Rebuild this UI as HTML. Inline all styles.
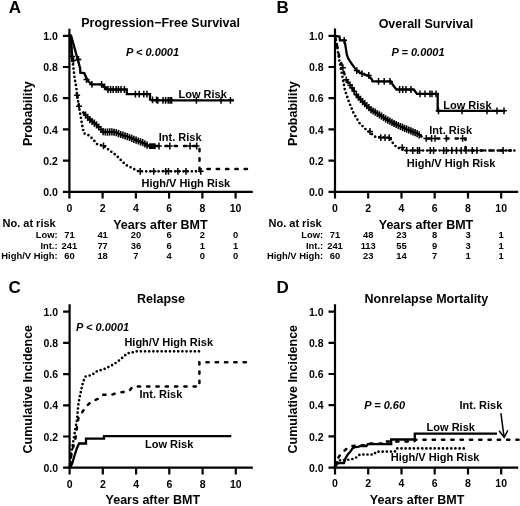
<!DOCTYPE html>
<html><head><meta charset="utf-8"><style>
html,body{margin:0;padding:0;background:#fff;overflow:hidden;}
svg{display:block;filter:grayscale(1);}
text{font-family:"Liberation Sans",sans-serif;font-weight:bold;fill:#000;}
.ax{stroke:#000;stroke-width:2.2;fill:none;}
.so{stroke:#000;stroke-width:2.3;fill:none;stroke-linejoin:miter;}
.da{stroke:#000;stroke-width:2.5;fill:none;stroke-dasharray:2.3 7;stroke-linecap:round;}
.dt{stroke:#000;stroke-width:2.7;fill:none;stroke-dasharray:0 4.15;stroke-linecap:round;}
.cm{stroke:#000;stroke-width:1.5;fill:none;}
.ar{stroke:#000;stroke-width:1.5;fill:none;}
</style></head><body>
<svg width="520" height="506" viewBox="0 0 520 506">
<path class="ax" d="M69.4,28.7V192.8 M62.9,191.8H252.8"/>
<path class="ax" d="M62.9,160.6H69.4M62.9,129.4H69.4M62.9,98.2H69.4M62.9,67.0H69.4M62.9,35.8H69.4M69.4,191.8V198.6M102.6,191.8V198.6M135.9,191.8V198.6M169.1,191.8V198.6M202.4,191.8V198.6M235.6,191.8V198.6"/>
<text x="57.9" y="195.9" text-anchor="end" style="font-size:10.5px;">0.0</text>
<text x="57.9" y="164.7" text-anchor="end" style="font-size:10.5px;">0.2</text>
<text x="57.9" y="133.5" text-anchor="end" style="font-size:10.5px;">0.4</text>
<text x="57.9" y="102.3" text-anchor="end" style="font-size:10.5px;">0.6</text>
<text x="57.9" y="71.1" text-anchor="end" style="font-size:10.5px;">0.8</text>
<text x="57.9" y="39.9" text-anchor="end" style="font-size:10.5px;">1.0</text>
<text x="69.4" y="211.6" text-anchor="middle" style="font-size:10.5px;">0</text>
<text x="102.6" y="211.6" text-anchor="middle" style="font-size:10.5px;">2</text>
<text x="135.9" y="211.6" text-anchor="middle" style="font-size:10.5px;">4</text>
<text x="169.1" y="211.6" text-anchor="middle" style="font-size:10.5px;">6</text>
<text x="202.4" y="211.6" text-anchor="middle" style="font-size:10.5px;">8</text>
<text x="235.6" y="211.6" text-anchor="middle" style="font-size:10.5px;">10</text>
<path class="ax" d="M335.0,28.5V192.8 M328.5,191.8H518.2"/>
<path class="ax" d="M328.5,160.6H335.0M328.5,129.4H335.0M328.5,98.2H335.0M328.5,67.0H335.0M328.5,35.8H335.0M335.0,191.8V198.6M368.2,191.8V198.6M401.5,191.8V198.6M434.7,191.8V198.6M468.0,191.8V198.6M501.2,191.8V198.6"/>
<text x="323.5" y="195.9" text-anchor="end" style="font-size:10.5px;">0.0</text>
<text x="323.5" y="164.7" text-anchor="end" style="font-size:10.5px;">0.2</text>
<text x="323.5" y="133.5" text-anchor="end" style="font-size:10.5px;">0.4</text>
<text x="323.5" y="102.3" text-anchor="end" style="font-size:10.5px;">0.6</text>
<text x="323.5" y="71.1" text-anchor="end" style="font-size:10.5px;">0.8</text>
<text x="323.5" y="39.9" text-anchor="end" style="font-size:10.5px;">1.0</text>
<text x="335.0" y="211.6" text-anchor="middle" style="font-size:10.5px;">0</text>
<text x="368.2" y="211.6" text-anchor="middle" style="font-size:10.5px;">2</text>
<text x="401.5" y="211.6" text-anchor="middle" style="font-size:10.5px;">4</text>
<text x="434.7" y="211.6" text-anchor="middle" style="font-size:10.5px;">6</text>
<text x="468.0" y="211.6" text-anchor="middle" style="font-size:10.5px;">8</text>
<text x="501.2" y="211.6" text-anchor="middle" style="font-size:10.5px;">10</text>
<path class="ax" d="M69.6,304.2V468.7 M63.1,467.7H252.8"/>
<path class="ax" d="M63.1,436.5H69.6M63.1,405.3H69.6M63.1,374.1H69.6M63.1,342.9H69.6M63.1,311.7H69.6M69.6,467.7V474.5M102.8,467.7V474.5M136.1,467.7V474.5M169.3,467.7V474.5M202.6,467.7V474.5M235.8,467.7V474.5"/>
<text x="58.1" y="471.8" text-anchor="end" style="font-size:10.5px;">0.0</text>
<text x="58.1" y="440.6" text-anchor="end" style="font-size:10.5px;">0.2</text>
<text x="58.1" y="409.4" text-anchor="end" style="font-size:10.5px;">0.4</text>
<text x="58.1" y="378.2" text-anchor="end" style="font-size:10.5px;">0.6</text>
<text x="58.1" y="347.0" text-anchor="end" style="font-size:10.5px;">0.8</text>
<text x="58.1" y="315.8" text-anchor="end" style="font-size:10.5px;">1.0</text>
<text x="69.6" y="487.5" text-anchor="middle" style="font-size:10.5px;">0</text>
<text x="102.8" y="487.5" text-anchor="middle" style="font-size:10.5px;">2</text>
<text x="136.1" y="487.5" text-anchor="middle" style="font-size:10.5px;">4</text>
<text x="169.3" y="487.5" text-anchor="middle" style="font-size:10.5px;">6</text>
<text x="202.6" y="487.5" text-anchor="middle" style="font-size:10.5px;">8</text>
<text x="235.8" y="487.5" text-anchor="middle" style="font-size:10.5px;">10</text>
<path class="ax" d="M335.0,304.2V468.6 M328.5,467.6H518.2"/>
<path class="ax" d="M328.5,436.4H335.0M328.5,405.2H335.0M328.5,374.0H335.0M328.5,342.8H335.0M328.5,311.6H335.0M335.0,467.6V474.4M368.2,467.6V474.4M401.5,467.6V474.4M434.7,467.6V474.4M468.0,467.6V474.4M501.2,467.6V474.4"/>
<text x="323.5" y="471.7" text-anchor="end" style="font-size:10.5px;">0.0</text>
<text x="323.5" y="440.5" text-anchor="end" style="font-size:10.5px;">0.2</text>
<text x="323.5" y="409.3" text-anchor="end" style="font-size:10.5px;">0.4</text>
<text x="323.5" y="378.1" text-anchor="end" style="font-size:10.5px;">0.6</text>
<text x="323.5" y="346.9" text-anchor="end" style="font-size:10.5px;">0.8</text>
<text x="323.5" y="315.7" text-anchor="end" style="font-size:10.5px;">1.0</text>
<text x="335.0" y="487.4" text-anchor="middle" style="font-size:10.5px;">0</text>
<text x="368.2" y="487.4" text-anchor="middle" style="font-size:10.5px;">2</text>
<text x="401.5" y="487.4" text-anchor="middle" style="font-size:10.5px;">4</text>
<text x="434.7" y="487.4" text-anchor="middle" style="font-size:10.5px;">6</text>
<text x="468.0" y="487.4" text-anchor="middle" style="font-size:10.5px;">8</text>
<text x="501.2" y="487.4" text-anchor="middle" style="font-size:10.5px;">10</text>
<text x="8.8" y="13.1" text-anchor="start" style="font-size:17px;">A</text>
<text x="276.6" y="13.1" text-anchor="start" style="font-size:17px;">B</text>
<text x="8.6" y="293.2" text-anchor="start" style="font-size:17px;">C</text>
<text x="276.4" y="293" text-anchor="start" style="font-size:17px;">D</text>
<text x="160.6" y="26.8" text-anchor="middle" style="font-size:12.5px;">Progression−Free Survival</text>
<text x="425.9" y="27.6" text-anchor="middle" style="font-size:12.5px;">Overall Survival</text>
<text x="161" y="303.3" text-anchor="middle" style="font-size:12.5px;">Relapse</text>
<text x="426.4" y="303.3" text-anchor="middle" style="font-size:12.5px;">Nonrelapse Mortality</text>
<text x="126" y="55.7" text-anchor="start" style="font-size:11px;font-style:italic;">P &lt; 0.0001</text>
<text x="391.5" y="55.6" text-anchor="start" style="font-size:11px;font-style:italic;">P = 0.0001</text>
<text x="76.1" y="330.8" text-anchor="start" style="font-size:11px;font-style:italic;">P &lt; 0.0001</text>
<text x="364.2" y="408.7" text-anchor="start" style="font-size:11px;font-style:italic;">P = 0.60</text>
<text transform="translate(31.7,113.7) rotate(-90)" text-anchor="middle" style="font-size:12.5px">Probability</text>
<text transform="translate(297.2,113.7) rotate(-90)" text-anchor="middle" style="font-size:12.5px">Probability</text>
<text transform="translate(31.7,389.2) rotate(-90)" text-anchor="middle" style="font-size:12.5px">Cumulative Incidence</text>
<text transform="translate(297.2,389.2) rotate(-90)" text-anchor="middle" style="font-size:12.5px">Cumulative Incidence</text>
<text x="160.4" y="229.2" text-anchor="middle" style="font-size:12.5px;">Years after BMT</text>
<text x="426" y="229.2" text-anchor="middle" style="font-size:12.5px;">Years after BMT</text>
<text x="152.8" y="504.2" text-anchor="middle" style="font-size:12.5px;">Years after BMT</text>
<text x="417.1" y="504.2" text-anchor="middle" style="font-size:12.5px;">Years after BMT</text>
<text x="2.5" y="227.2" text-anchor="start" style="font-size:11px;">No. at risk</text>
<text x="57.6" y="237.8" text-anchor="end" style="font-size:9.4px;">Low:</text>
<text x="69.4" y="237.8" text-anchor="middle" style="font-size:9.4px;">71</text>
<text x="102.6" y="237.8" text-anchor="middle" style="font-size:9.4px;">41</text>
<text x="135.9" y="237.8" text-anchor="middle" style="font-size:9.4px;">20</text>
<text x="169.1" y="237.8" text-anchor="middle" style="font-size:9.4px;">6</text>
<text x="202.4" y="237.8" text-anchor="middle" style="font-size:9.4px;">2</text>
<text x="235.6" y="237.8" text-anchor="middle" style="font-size:9.4px;">0</text>
<text x="57.6" y="248.5" text-anchor="end" style="font-size:9.4px;">Int.:</text>
<text x="69.4" y="248.5" text-anchor="middle" style="font-size:9.4px;">241</text>
<text x="102.6" y="248.5" text-anchor="middle" style="font-size:9.4px;">77</text>
<text x="135.9" y="248.5" text-anchor="middle" style="font-size:9.4px;">36</text>
<text x="169.1" y="248.5" text-anchor="middle" style="font-size:9.4px;">6</text>
<text x="202.4" y="248.5" text-anchor="middle" style="font-size:9.4px;">1</text>
<text x="235.6" y="248.5" text-anchor="middle" style="font-size:9.4px;">1</text>
<text x="57.6" y="259.2" text-anchor="end" style="font-size:9.4px;">High/V High:</text>
<text x="69.4" y="259.2" text-anchor="middle" style="font-size:9.4px;">60</text>
<text x="102.6" y="259.2" text-anchor="middle" style="font-size:9.4px;">18</text>
<text x="135.9" y="259.2" text-anchor="middle" style="font-size:9.4px;">7</text>
<text x="169.1" y="259.2" text-anchor="middle" style="font-size:9.4px;">4</text>
<text x="202.4" y="259.2" text-anchor="middle" style="font-size:9.4px;">0</text>
<text x="235.6" y="259.2" text-anchor="middle" style="font-size:9.4px;">0</text>
<text x="268.5" y="227.2" text-anchor="start" style="font-size:11px;">No. at risk</text>
<text x="323.2" y="237.8" text-anchor="end" style="font-size:9.4px;">Low:</text>
<text x="335.0" y="237.8" text-anchor="middle" style="font-size:9.4px;">71</text>
<text x="368.2" y="237.8" text-anchor="middle" style="font-size:9.4px;">48</text>
<text x="401.5" y="237.8" text-anchor="middle" style="font-size:9.4px;">23</text>
<text x="434.7" y="237.8" text-anchor="middle" style="font-size:9.4px;">8</text>
<text x="468.0" y="237.8" text-anchor="middle" style="font-size:9.4px;">3</text>
<text x="501.2" y="237.8" text-anchor="middle" style="font-size:9.4px;">1</text>
<text x="323.2" y="248.5" text-anchor="end" style="font-size:9.4px;">Int.:</text>
<text x="335.0" y="248.5" text-anchor="middle" style="font-size:9.4px;">241</text>
<text x="368.2" y="248.5" text-anchor="middle" style="font-size:9.4px;">113</text>
<text x="401.5" y="248.5" text-anchor="middle" style="font-size:9.4px;">55</text>
<text x="434.7" y="248.5" text-anchor="middle" style="font-size:9.4px;">9</text>
<text x="468.0" y="248.5" text-anchor="middle" style="font-size:9.4px;">3</text>
<text x="501.2" y="248.5" text-anchor="middle" style="font-size:9.4px;">1</text>
<text x="323.2" y="259.2" text-anchor="end" style="font-size:9.4px;">High/V High:</text>
<text x="335.0" y="259.2" text-anchor="middle" style="font-size:9.4px;">60</text>
<text x="368.2" y="259.2" text-anchor="middle" style="font-size:9.4px;">23</text>
<text x="401.5" y="259.2" text-anchor="middle" style="font-size:9.4px;">14</text>
<text x="434.7" y="259.2" text-anchor="middle" style="font-size:9.4px;">7</text>
<text x="468.0" y="259.2" text-anchor="middle" style="font-size:9.4px;">1</text>
<text x="501.2" y="259.2" text-anchor="middle" style="font-size:9.4px;">1</text>
<text x="178.5" y="97.6" text-anchor="start" style="font-size:11px;">Low Risk</text>
<text x="158.8" y="140.9" text-anchor="start" style="font-size:11px;">Int. Risk</text>
<text x="141.5" y="186.5" text-anchor="start" style="font-size:11px;">High/V High Risk</text>
<text x="443.3" y="108.7" text-anchor="start" style="font-size:11px;">Low Risk</text>
<text x="429.3" y="133.5" text-anchor="start" style="font-size:11px;">Int. Risk</text>
<text x="406.8" y="166.9" text-anchor="start" style="font-size:11px;">High/V High Risk</text>
<text x="124.4" y="345.5" text-anchor="start" style="font-size:11px;">High/V High Risk</text>
<text x="139.5" y="398" text-anchor="start" style="font-size:11px;">Int. Risk</text>
<text x="145" y="448" text-anchor="start" style="font-size:11px;">Low Risk</text>
<text x="426.6" y="430.8" text-anchor="start" style="font-size:11px;">Low Risk</text>
<text x="459.5" y="408.7" text-anchor="start" style="font-size:11px;">Int. Risk</text>
<text x="390.8" y="461.3" text-anchor="start" style="font-size:11px;">High/V High Risk</text>
<path class="so" d="M69.5,35.6 L71.1,35.6 L80.2,68.5 L80.3,72.6 L84.3,73 L86,77.2 L87.4,80.4 L89.2,82.1 L91.9,84.4 L101.6,84.4 L103.5,86 L105.1,87.6 L107.2,89.5 L126.8,89.5 L126.8,94.2 L150,94.2 L150,99.5 L152,100.3 L234,100.3"/>
<path class="da" d="M77.1,95.3 L78,100 L79,106.3 L82,111 L86.1,115.8 L90.9,120.6 L97.2,125.3 L102.7,131.6 L106.7,132.2 L111.4,131.8 L116.2,132.6 L120.9,134.6 L127.2,136.6 L132.1,138.6 L138.3,141 L143,142.8 L145.6,144.2 L148.5,146 L199.5,146 L199.5,169 L252.6,169"/>
<path class="dt" d="M69.5,35.6 L71,45 L72,58 L73.1,65.2 L74.7,78.7 L76.3,87.4 L77.1,95.3 L78.7,105 L80.6,115.8 L82.2,125.3 L83.8,133.2 L89.3,135.6 L93.2,139.5 L97.2,144.3 L103.5,145.8 L109.8,150.6 L116.2,155.3 L120.9,160.1 L125.7,164.8 L132,168 L138.3,171.3 L201,171.3"/>
<path class="so" d="M70.6,37 L71.6,50 L72.4,62" style="stroke-width:2.6"/>
<path class="cm" d="M72.3,53.1V59.9M69.5,56.5H75.1"/>
<path class="cm" d="M73.5,57.1V63.9M70.7,60.5H76.3"/>
<path class="cm" d="M77.1,91.9V98.7M74.1,95.3H80.1 M103.5,142.4V149.2M100.5,145.8H106.5"/>
<path class="cm" d="M140.2,167.9V174.7M137.4,171.3H143.0 M153.7,167.9V174.7M150.9,171.3H156.5 M165.8,167.9V174.7M163.0,171.3H168.6 M168.5,167.9V174.7M165.7,171.3H171.3 M177.9,167.9V174.7M175.1,171.3H180.7 M186,167.9V174.7M183.2,171.3H188.8 M200.8,167.9V174.7M198.0,171.3H203.6"/>
<path class="cm" d="M79,102.9V109.7M76.0,106.3H82.0"/>
<path class="cm" style="stroke-width:1.6" d="M85.5,111.5V118.7M82.9,115.1H88.1M87.7,113.8V121.0M85.1,117.4H90.3M89.9,116.0V123.2M87.3,119.6H92.5M92.1,117.9V125.1M89.5,121.5H94.7M94.3,119.5V126.7M91.7,123.1H96.9M96.5,121.2V128.4M93.9,124.8H99.1M98.7,123.4V130.6M96.1,127.0H101.3M100.9,125.9V133.1M98.3,129.5H103.5M103.1,128.1V135.3M100.5,131.7H105.7M105.3,128.4V135.6M102.7,132.0H107.9M107.5,128.5V135.7M104.9,132.1H110.1M109.7,128.3V135.5M107.1,131.9H112.3M111.9,128.3V135.5M109.3,131.9H114.5M114.1,128.7V135.8M111.5,132.2H116.7M116.3,129.0V136.2M113.7,132.6H118.9M118.5,130.0V137.2M115.9,133.6H121.1M120.7,130.9V138.1M118.1,134.5H123.3M122.9,131.6V138.8M120.3,135.2H125.5M125.1,132.3V139.5M122.5,135.9H127.7M127.3,133.0V140.2M124.7,136.6H129.9M129.5,133.9V141.1M126.9,137.5H132.1M131.7,134.8V142.0M129.1,138.4H134.3M133.9,135.7V142.9M131.3,139.3H136.5M136.1,136.5V143.7M133.5,140.1H138.7M138.3,137.4V144.6M135.7,141.0H140.9M140.5,138.2V145.4M137.9,141.8H143.1M142.7,139.1V146.3M140.1,142.7H145.3M144.9,140.2V147.4M142.3,143.8H147.5M147.1,141.5V148.7M144.5,145.1H149.7"/>
<rect x="149" y="143.3" width="6.7" height="5.7"/>
<path class="cm" d="M159,142.6V149.4M156.2,146H161.8 M169.8,142.6V149.4M167.0,146H172.6 M190,142.6V149.4M187.2,146H192.8 M196.7,142.6V149.4M193.9,146H199.5"/>
<path class="cm" d="M78.5,56.1V62.9M75.7,59.5H81.3"/>
<path class="cm" d="M75.6,59.5H80.8"/>
<path class="cm" d="M86.5,76.2V83.0M83.5,79.6H89.5"/>
<path class="cm" d="M91.9,81.0V87.8M89.1,84.4H94.7 M101.6,81.0V87.8M98.8,84.4H104.4"/>
<path class="cm" d="M104.6,83.5V90.3M101.6,86.9H107.6"/>
<path class="cm" d="M108,86.1V92.9M105.2,89.5H110.8 M110.6,86.1V92.9M107.8,89.5H113.4 M113.2,86.1V92.9M110.4,89.5H116.0 M116.2,86.1V92.9M113.4,89.5H119.0 M118.4,86.1V92.9M115.6,89.5H121.2 M121,86.1V92.9M118.2,89.5H123.8 M124.4,86.1V92.9M121.6,89.5H127.2"/>
<path class="cm" d="M135.4,90.8V97.6M132.6,94.2H138.2 M139.2,90.8V97.6M136.4,94.2H142.0 M143.8,90.8V97.6M141.0,94.2H146.6 M146.9,90.8V97.6M144.1,94.2H149.7"/>
<path class="cm" d="M152.5,96.4V103.2M149.7,99.8H155.3 M156.5,96.4V103.2M153.7,99.8H159.3"/>
<path class="cm" d="M157.8,96.9V103.7M155.0,100.3H160.6 M163,96.9V103.7M160.2,100.3H165.8 M165.6,96.9V103.7M162.8,100.3H168.4 M168.2,96.9V103.7M165.4,100.3H171.0 M170,96.9V103.7M167.2,100.3H172.8 M171.6,96.9V103.7M168.8,100.3H174.4 M196.4,96.9V103.7M193.6,100.3H199.2 M221,96.9V103.7M218.2,100.3H223.8 M230.4,96.9V103.7M227.6,100.3H233.2"/>
<path class="so" d="M335,36 L339.5,36.5 L340,40.3 L344.5,40.3 L345.7,47.3 L346.8,54.4 L348,58 L349.8,61 L352.2,64.5 L354.5,67.6 L356.9,70.6 L359,72 L363.2,74.2 L367.9,75.6 L371.9,79.4 L372.5,81.4 L390.9,81.4 L393,85 L396.4,89.5 L413.8,89.5 L416.9,93.8 L437.7,93.8 L437.7,110.8 L504.7,110.8"/>
<path class="da" d="M335,36 L336.5,43 L338,50 L339.5,58 L342.9,67.8 L344.5,74.5 L346.3,79.8 L349.4,84.5 L352,87.5 L357,95.8 L363,102 L370.8,109.6 L378.5,114.2 L386.2,119.2 L393.8,123.4 L401.5,127 L409.2,130.2 L416.9,133.4 L420.5,135.5 L423.1,138.4 L465.5,138.4 L465.5,150.5 L516,150.5"/>
<path class="dt" d="M335,36 L337.1,45.8 L339.5,61.6 L342.6,77.4 L344.8,89.6 L348.8,101.5 L353.7,113.4 L359.6,123.2 L366.6,130.2 L369.5,132.1 L375.4,136.9 L390,137.7 L392.3,142.3 L396.9,147.7 L401.5,148.5 L404.6,150.5 L516,150.5"/>
<path class="cm" style="stroke-width:1.6" d="M350.0,81.6V88.8M347.4,85.2H352.6M352.1,84.1V91.3M349.5,87.7H354.7M354.2,87.6V94.8M351.6,91.2H356.8M356.3,91.0V98.2M353.7,94.6H358.9M358.4,93.6V100.8M355.8,97.2H361.0M360.5,95.8V103.0M357.9,99.4H363.1M362.6,98.0V105.2M360.0,101.6H365.2M364.7,100.1V107.3M362.1,103.7H367.3M366.8,102.1V109.3M364.2,105.7H369.4M368.9,104.1V111.3M366.3,107.7H371.5M371.0,106.1V113.3M368.4,109.7H373.6M373.1,107.4V114.6M370.5,111.0H375.7M375.2,108.6V115.8M372.6,112.2H377.8M377.3,109.9V117.1M374.7,113.5H379.9M379.4,111.2V118.4M376.8,114.8H382.0M381.5,112.5V119.7M378.9,116.1H384.1M383.6,113.9V121.1M381.0,117.5H386.2M385.7,115.3V122.5M383.1,118.9H388.3M387.8,116.5V123.7M385.2,120.1H390.4M389.9,117.6V124.8M387.3,121.2H392.5M392.0,118.8V126.0M389.4,122.4H394.6M394.1,119.9V127.1M391.5,123.5H396.7M396.2,120.9V128.1M393.6,124.5H398.8M398.3,121.9V129.1M395.7,125.5H400.9M400.4,122.9V130.1M397.8,126.5H403.0M402.5,123.8V131.0M399.9,127.4H405.1M404.6,124.7V131.9M402.0,128.3H407.2M406.7,125.6V132.8M404.1,129.2H409.3M408.8,126.4V133.6M406.2,130.0H411.4M410.9,127.3V134.5M408.3,130.9H413.5M413.0,128.2V135.4M410.4,131.8H415.6M415.1,129.1V136.3M412.5,132.7H417.7M417.2,130.0V137.2M414.6,133.6H419.8M419.3,131.2V138.4M416.7,134.8H421.9"/>
<path class="cm" d="M426.2,135.0V141.8M423.4,138.4H429.0 M431.6,135.0V141.8M428.8,138.4H434.4 M435,135.0V141.8M432.2,138.4H437.8 M446.4,135.0V141.8M443.6,138.4H449.2 M462.6,135.0V141.8M459.8,138.4H465.4"/>
<path class="cm" d="M443.7,147.1V153.9M440.9,150.5H446.5 M446.4,147.1V153.9M443.6,150.5H449.2 M451.8,147.1V153.9M449.0,150.5H454.6 M456.5,147.1V153.9M453.7,150.5H459.3 M461.2,147.1V153.9M458.4,150.5H464.0 M466,147.1V153.9M463.2,150.5H468.8 M472.3,147.1V153.9M469.5,150.5H475.1 M476.9,147.1V153.9M474.1,150.5H479.7 M503.1,147.1V153.9M500.3,150.5H505.9"/>
<path class="cm" d="M370,128.1V134.9M367.0,131.5H373.0 M402.3,144.2V151.0M399.3,147.6H405.3"/>
<path class="cm" d="M380.8,134.3V141.1M378.0,137.7H383.6 M385,134.3V141.1M382.2,137.7H387.8 M389.2,134.3V141.1M386.4,137.7H392.0"/>
<path class="cm" d="M406.7,147.1V153.9M403.9,150.5H409.5 M412.8,147.1V153.9M410.0,150.5H415.6 M417.5,147.1V153.9M414.7,150.5H420.3 M419.5,147.1V153.9M416.7,150.5H422.3 M430.3,147.1V153.9M427.5,150.5H433.1 M433.6,147.1V153.9M430.8,150.5H436.4"/>
<path class="cm" d="M344.2,36.9V43.7M341.4,40.3H347.0"/>
<path class="cm" d="M356.8,67.2V74.0M353.8,70.6H359.8 M362,70.2V77.0M359.0,73.6H365.0 M368.8,72.0V78.8M365.8,75.4H371.8 M342.9,64.4V71.2M339.9,67.8H345.9 M346.3,76.4V83.2M343.3,79.8H349.3"/>
<path class="cm" d="M378.5,78.0V84.8M375.7,81.4H381.3 M384.2,78.0V84.8M381.4,81.4H387.0 M390,78.0V84.8M387.2,81.4H392.8"/>
<path class="cm" d="M399.6,86.1V92.9M396.8,89.5H402.4 M402.7,86.1V92.9M399.9,89.5H405.5 M406,86.1V92.9M403.2,89.5H408.8 M411,86.1V92.9M408.2,89.5H413.8"/>
<path class="cm" d="M420,90.4V97.2M417.2,93.8H422.8 M425,90.4V97.2M422.2,93.8H427.8 M430,90.4V97.2M427.2,93.8H432.8 M432,90.4V97.2M429.2,93.8H434.8 M436,90.4V97.2M433.2,93.8H438.8"/>
<path class="cm" d="M438.5,107.4V114.2M435.7,110.8H441.3 M462,107.4V114.2M459.2,110.8H464.8 M487,107.4V114.2M484.2,110.8H489.8 M497,107.4V114.2M494.2,110.8H499.8 M504,107.4V114.2M501.2,110.8H506.8"/>
<path class="so" d="M70,467 L72,464 L75,454 L77,448 L79,443.5 L86,443.5 L86,438.7 L104,438.7 L104,436.2 L231.3,436.2"/>
<path class="da" d="M70,466 L71.6,452.5 L74.4,442.9 L76.4,433.9 L77.1,426.3 L78.5,418 L82,412.4 L86,406.5 L91,402 L98,398.8 L102.7,394.8 L111.4,394.8 L118.5,392.5 L128.8,391.3 L132.8,386.6 L199.4,386.6 L199.4,362.2 L252.5,362.2"/>
<path class="dt" d="M70,466 L71,455 L73,443 L75.8,426.3 L77.1,419.4 L77.6,412.4 L78.5,403 L79.8,396.4 L83,382.2 L85.3,376.6 L91.7,375 L97.2,371.1 L105.1,368.7 L111.4,365.6 L117.8,361.6 L123.3,356.9 L127.2,353.4 L133.6,352.1 L136.3,351.3 L201.3,351.3"/>
<path class="so" d="M335.5,466 L338,463 L344,463 L345.5,458.3 L347.8,454.5 L350.5,451.4 L352.5,448.3 L354.8,447.2 L357.8,446.8 L361,446 L366.5,446 L367.8,444.2 L391.2,444.2 L391.2,439.5 L414.8,439.5 L414.8,433.6 L497,433.6"/>
<path class="da" d="M335,466 L337,459.5 L341.3,453.3 L346.3,449.1 L350,446.5 L357,445.3 L366,445.3 L367.5,443.5 L387,443.5 L387,441.6 L414,441.6 L416,439.8 L518.5,439.8"/>
<path class="dt" d="M335,466 L338,460.5 L342,460 L346,460 L350.5,459.5 L354.4,458.5 L357.5,456.8 L359.8,454.5 L374,454.5 L376,451.7 L395,451.5 L396.5,448.4 L465,448.4"/>
<path class="ar" d="M500.9,413.2L504.1,437.4 M499.1,430.7L504.1,437.4L507.9,430.3"/>
</svg>
</body></html>
